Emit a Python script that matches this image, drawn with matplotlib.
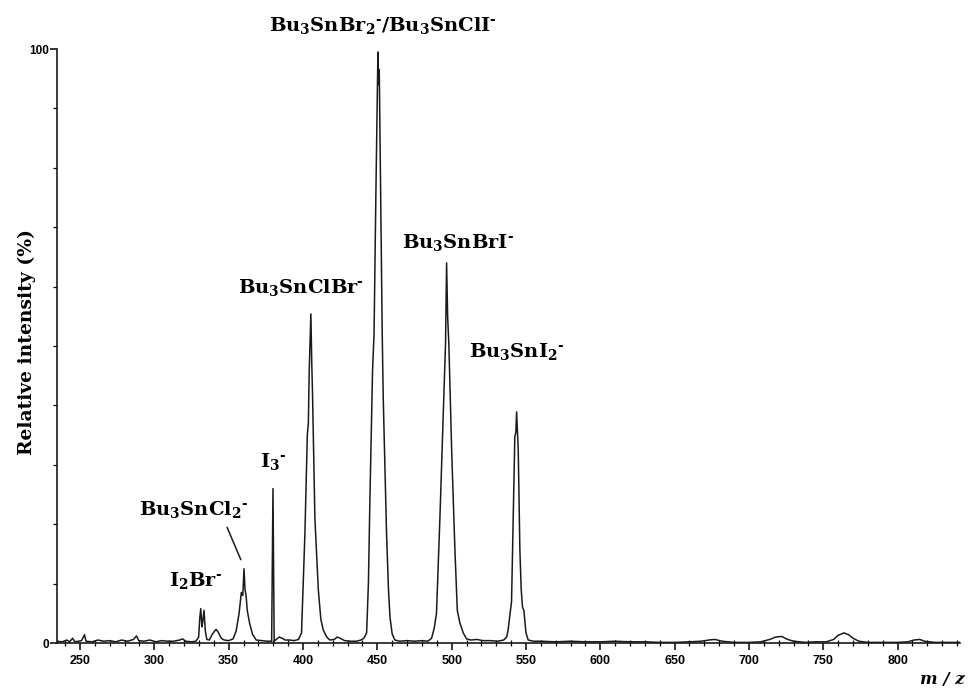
import matplotlib
matplotlib.use("Agg")
import matplotlib.pyplot as plt
from matplotlib.ticker import MultipleLocator, FixedLocator

# ---- data ----
mz = [234.5, 238, 241, 243, 245, 246.5, 249, 251, 253, 254, 258, 262, 266, 270, 274,
      278, 282, 286, 288, 289.5, 293, 297, 301, 305, 309, 313, 317, 319, 321, 325,
      328, 329.8, 330.5, 331.2, 332.0, 332.5, 333.4, 334.3, 335.3, 337, 339, 341.5,
      343, 345, 347, 350, 353, 355, 357, 358.5, 359.5, 360.3, 361, 361.7, 362.5, 364,
      366, 368.5, 372, 376, 378.9, 379.8, 380.6, 382, 384, 386, 388, 391, 394, 397,
      399, 401.3, 402.9, 403.6, 404.2, 405.3, 405.9, 406.4, 408, 410.3, 412, 413.6,
      416, 418, 421, 423, 425, 428, 432, 436, 439, 441, 442.8, 444, 445, 446.8, 447.8,
      449, 450.4, 450.9, 451.3, 452.3, 453.3, 454, 456.2, 457.5, 458.5, 460, 461.8,
      465, 470, 475, 480, 484, 486.5, 488.3, 489.8, 492.1, 494.3, 495.9, 496.6, 497.3,
      498.1, 500, 502.2, 503.8, 505.5, 507.8, 510, 513, 517, 521, 526, 531, 535, 537,
      538, 540.3, 541.4, 542.5, 543.2, 543.7, 544.8, 545.9, 546.8, 547.7, 548.6, 550,
      551.5, 555, 560, 570, 580, 590, 600, 610, 620, 630, 640, 650, 660, 668, 673,
      677, 682, 690, 700, 708, 714, 718, 722, 726, 730, 738, 745, 752, 757, 760, 764,
      767, 770, 774, 780, 790, 800, 807, 811, 815, 818, 825, 835, 842]
intensity = [0.3, 0.2, 0.5, 0.2, 0.8, 0.2, 0.3, 0.4, 1.4, 0.3, 0.2, 0.5, 0.3, 0.4, 0.2,
             0.5, 0.3, 0.6, 1.2, 0.4, 0.3, 0.5, 0.2, 0.4, 0.3, 0.3, 0.5, 0.7, 0.3, 0.2,
             0.3, 1.0, 4.0, 5.8, 2.7, 3.5, 5.5, 2.0, 0.6, 0.5, 1.5, 2.3,
             1.8, 0.8, 0.5, 0.4, 0.7, 2.0, 5.0, 8.5, 8.0, 12.5, 9.0, 8.0, 5.5, 3.4,
             1.5, 0.5, 0.4, 0.3, 0.3, 26.0, 0.3, 0.6, 1.0, 0.8, 0.5, 0.5, 0.4, 0.6,
             1.7, 18.5, 35.0, 37.0, 46.0, 55.4, 47.0, 42.0, 21.0, 9.0, 4.0, 2.2,
             1.0, 0.5, 0.6, 1.0, 0.8, 0.4, 0.3, 0.3, 0.5, 0.8, 1.7, 10.0, 24.0, 46.0, 52.0,
             75.0, 99.5, 94.0, 96.5, 75.0, 52.0, 41.0, 18.5, 9.0, 4.4, 1.5, 0.5,
             0.3, 0.4, 0.3, 0.4, 0.3, 0.8, 2.5, 5.0, 21.0, 38.0, 50.5, 64.0, 55.0,
             50.5, 32.5, 15.7, 5.5, 3.4, 1.7, 0.7, 0.5, 0.6, 0.4, 0.4, 0.3, 0.5, 1.0,
             2.2, 7.0, 21.0, 34.7, 35.5, 38.9, 32.5, 15.7, 9.0, 6.0, 5.5, 1.7,
             0.5, 0.3, 0.3, 0.2, 0.3, 0.2, 0.2, 0.3, 0.2, 0.2, 0.1, 0.1, 0.2, 0.3, 0.5,
             0.6, 0.3, 0.1, 0.1, 0.2, 0.6, 1.0, 1.1, 0.6, 0.3, 0.1, 0.2, 0.2, 0.6, 1.3, 1.7,
             1.4, 0.8, 0.3, 0.1, 0.1, 0.1, 0.2, 0.5, 0.6, 0.3, 0.1, 0.1, 0.1]

x_ticks = [250, 300, 350, 400, 450, 500, 550, 600, 650, 700, 750, 800]
y_ticks = [0, 100]

HY = '\u2010'  # small hyphen used as the charge sign
CH = f'$^{{{HY}}}$'
peak_labels = [f'Bu$_3$SnBr$_2${CH}/Bu$_3$SnClI{CH}',
               f'Bu$_3$SnBrI{CH}',
               f'Bu$_3$SnClBr{CH}',
               f'Bu$_3$SnI$_2${CH}',
               f'I$_3${CH}',
               f'Bu$_3$SnCl$_2${CH}',
               f'I$_2$Br{CH}']
# label anchor positions (m/z, %)
label_pos = [(453.8, 104.0), (504.2, 67.5), (398.6, 59.8), (543.9, 49.0),
             (379.8, 30.5), (326.7, 22.4), (328.0, 10.6)]

plt.rcParams['mathtext.default'] = 'regular'

fig = plt.figure(figsize=(9.76, 6.88), dpi=100)
ax = fig.add_axes([57 / 976, 45 / 688, 903 / 976, 594 / 688])
ax.plot(mz, intensity, color='#1a1a1a', lw=1.1)

ax.set_xlim(234.5, 842)
ax.set_ylim(0, 100)
for s in ['top', 'right']:
    ax.spines[s].set_visible(False)
for s in ['left', 'bottom']:
    ax.spines[s].set_linewidth(1.2)
    ax.spines[s].set_color('#1a1a1a')

ax.xaxis.set_major_locator(FixedLocator(x_ticks))
ax.xaxis.set_minor_locator(MultipleLocator(10))
ax.yaxis.set_major_locator(FixedLocator(y_ticks))
ax.yaxis.set_minor_locator(MultipleLocator(10))
ax.tick_params(axis='x', which='major', direction='out', length=5, width=1.1,
               labelsize=9, pad=4)
ax.tick_params(axis='x', which='minor', direction='inout', length=4, width=0.9)
ax.tick_params(axis='y', which='major', direction='out', length=5, width=1.1,
               labelsize=8.5, pad=1)
ax.tick_params(axis='y', which='minor', direction='out', length=3, width=0.9)
for lab in ax.get_xticklabels() + ax.get_yticklabels():
    lab.set_fontfamily('Liberation Sans')
    lab.set_fontweight('bold')

serif = 'DejaVu Serif'
for txt, (px, py) in zip(peak_labels, label_pos):
    ax.text(px, py, txt, ha='center', va='center', fontsize=14,
            family=serif, fontweight='bold', clip_on=False)

ax.annotate('', xy=(358.9, 13.6), xytext=(348.2, 19.9),
            arrowprops=dict(arrowstyle='-', lw=1.1, color='#1a1a1a'))

fig.text(27 / 976, 1 - 342 / 688, 'Relative intensity (%)', rotation=90,
         ha='center', va='center', fontsize=13.5, family=serif, fontweight='bold')
fig.text(942 / 976, 1 - 680 / 688, 'm / z', ha='center', va='center',
         fontsize=12, family=serif, fontweight='bold', style='italic')

fig.savefig('out.png', dpi=100)
